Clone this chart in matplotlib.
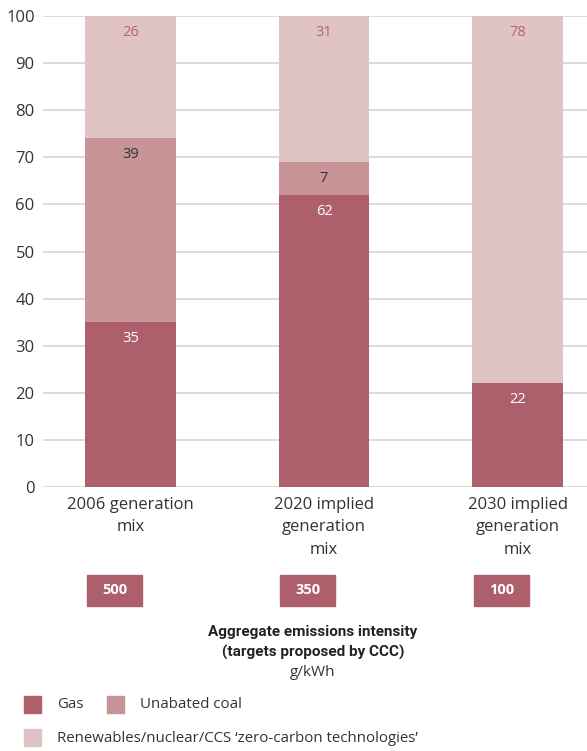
import matplotlib.pyplot as plt
import matplotlib.transforms as mtransforms
from matplotlib.patches import Rectangle

categories = ["2006 generation\nmix", "2020 implied\ngeneration\nmix", "2030 implied\ngeneration\nmix"]
gas = [35, 62, 22]
coal = [39, 7, 0]
zero_carbon = [26, 31, 78]
intensity = [500, 350, 100]

gas_color = "#ad5f6c"
coal_color = "#c89498"
zero_color = "#e0c4c5"
label_rose = "#b5646f"
label_dark = "#333333"

plt.rcParams["font.family"] = ["Open Sans", "DejaVu Sans"]

fig = plt.figure(figsize=(5.87, 7.51), dpi=100)
ax = fig.add_axes([0.0733, 0.3515, 0.9267, 0.6272])

x = list(range(len(categories)))
width = 0.47
bottom_coal = gas
bottom_zero = [g + c for g, c in zip(gas, coal)]

ax.bar(x, gas, width, color=gas_color, zorder=3)
ax.bar(x, coal, width, bottom=bottom_coal, color=coal_color, zorder=3)
ax.bar(x, zero_carbon, width, bottom=bottom_zero, color=zero_color, zorder=3)

# value labels just below the top of each segment
for i in x:
    ax.text(i, gas[i] - 3.5, str(gas[i]), ha="center", va="center",
            color="white", fontsize=10.5, zorder=4)
    if coal[i]:
        ax.text(i, bottom_zero[i] - 3.5, str(coal[i]), ha="center", va="center",
                color=label_dark, fontsize=10.5, zorder=4)
    ax.text(i, 100 - 3.5, str(zero_carbon[i]), ha="center", va="center",
            color=label_rose, fontsize=10.5, zorder=4)

ax.set_ylim(0, 100)
ax.set_xlim(-0.452, 2.359)
ax.set_yticks(range(0, 101, 10))
ax.set_xticks(x)
ax.set_xticklabels(categories, linespacing=1.55)
ax.tick_params(axis="both", length=0, labelsize=12, colors="#333333")
ax.tick_params(axis="x", pad=7)
ax.tick_params(axis="y", pad=6)
ax.grid(True, axis="y", color="#dcdcdc", linewidth=1.4, zorder=0)
for spine in ax.spines.values():
    spine.set_visible(False)

# emissions intensity boxes
trans = mtransforms.blended_transform_factory(ax.transData, fig.transFigure)
box_h = 31 / 751
box_y = 1 - 606 / 751
for i, val in enumerate(intensity):
    left = i - 0.225
    fig.patches.append(Rectangle((left, box_y), 0.284, box_h, transform=trans,
                                 color=gas_color, clip_on=False))
    fig.text(left + 0.142, box_y + box_h / 2, str(val), transform=trans,
             ha="center", va="center", color="white", fontsize=10.5, fontweight="bold")

fig.text(313 / 587, 1 - 632 / 751, "Aggregate emissions intensity", ha="center", va="center",
         fontsize=11, fontweight="bold", color="#222222", family=["Roboto", "DejaVu Sans"])
fig.text(313 / 587, 1 - 652 / 751, "(targets proposed by CCC)", ha="center", va="center",
         fontsize=11, fontweight="bold", color="#222222", family=["Roboto", "DejaVu Sans"])
fig.text(313 / 587, 1 - 672 / 751, "g/kWh", ha="center", va="center",
         fontsize=11, color="#333333")

# legend drawn by hand
legend_items = [
    ("Gas", gas_color, 24, 705),
    ("Unabated coal", coal_color, 107, 705),
    ("Renewables/nuclear/CCS \u2018zero-carbon technologies\u2019", zero_color, 24, 738),
]
for name, col, px, py in legend_items:
    fig.patches.append(Rectangle((px / 587, 1 - (py + 8) / 751), 17 / 587, 17 / 751,
                                 transform=fig.transFigure, color=col))
    fig.text((px + 33) / 587, 1 - py / 751, name, ha="left", va="center",
             fontsize=10.8, color="#333333")

fig.savefig("out.png", dpi=100)
